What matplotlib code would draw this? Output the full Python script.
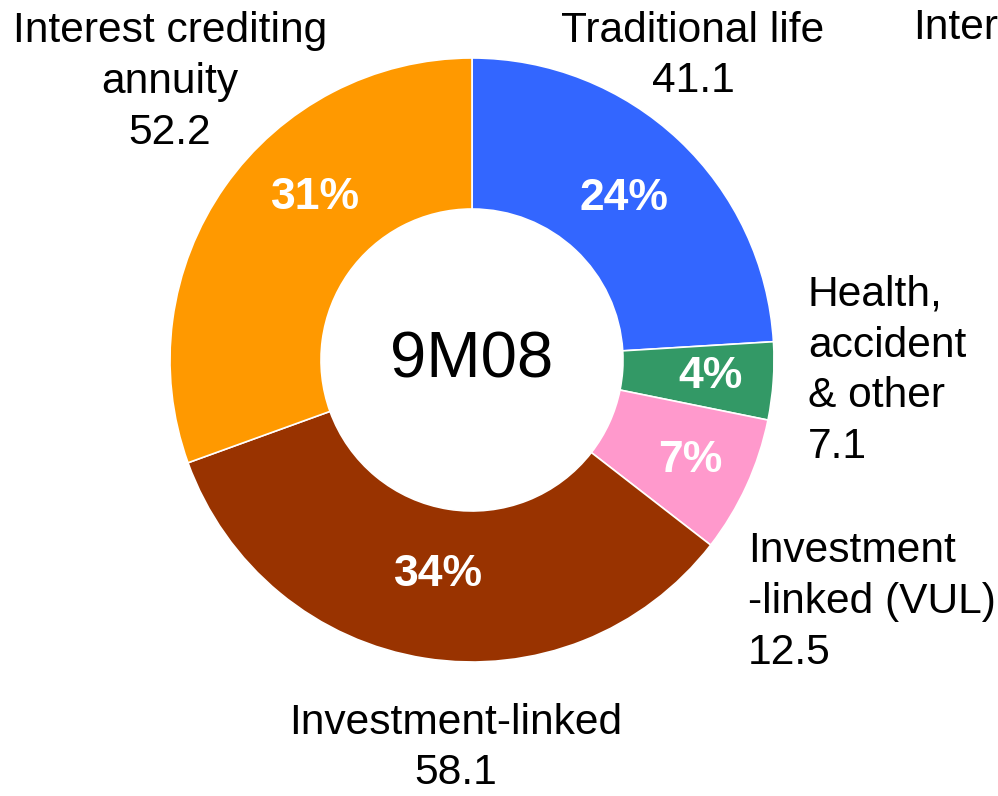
import matplotlib
matplotlib.use('Agg')
import matplotlib.pyplot as plt
import numpy as np

plt.rcParams['font.family'] = ['Liberation Sans', 'DejaVu Sans']

# data
categories = ['Traditional life', 'Health,\naccident\n& other', 'Investment\n-linked (VUL)',
              'Investment-linked', 'Interest crediting\nannuity']
values = [41.1, 7.1, 12.5, 58.1, 52.2]
colors = ['#3366FF', '#339966', '#FF99CC', '#993300', '#FF9900']
center_label = '9M08'

W, H = 998, 796
fig = plt.figure(figsize=(W / 100, H / 100), dpi=100)
ax = fig.add_axes([0, 0, 1, 1])

def py(y):
    # pixel row -> data y
    return H - y

cx, cy, R = 472, 360, 302
wedges, _ = ax.pie(values, colors=colors, startangle=90, counterclock=False,
                   center=(cx, py(cy)), radius=R, frame=True,
                   wedgeprops=dict(width=151, edgecolor='white', linewidth=1.2))
ax.set_xlim(0, W)
ax.set_ylim(0, H)
ax.set_aspect('equal')
ax.axis('off')

total = sum(values)
pcts = ['%d%%' % round(v / total * 100) for v in values]

# percent labels: radius / angle offsets per slice
pct_r = [222, 239, 240, 217, 226]
pct_shift = [0, 0, 0, 0, 11]
start = 90.0
for v, p, r, s in zip(values, pcts, pct_r, pct_shift):
    span = v / total * 360
    mid = np.deg2rad(start - span / 2 - s)
    ax.text(cx + r * np.cos(mid), py(cy) + r * np.sin(mid), p, color='white',
            fontsize=32, fontweight='bold', ha='center', va='center')
    start -= span

# outer labels
label_pos = [(693, 56, 'center'), (808, 371, 'left'), (748, 602, 'left'),
             (456, 748, 'center'), (170, 82, 'center')]
for name, v, (x, y, ha) in zip(categories, values, label_pos):
    ax.text(x, py(y), '%s\n%.1f' % (name, v), fontsize=30.6, ha=ha, va='center',
            multialignment=ha, linespacing=1.35, color='black')

ax.text(cx, py(cy), center_label, fontsize=47, ha='center', va='center')
ax.text(913, py(28), 'Inter', fontsize=30.6, ha='left', va='center')

fig.savefig('out.png', dpi=100)
